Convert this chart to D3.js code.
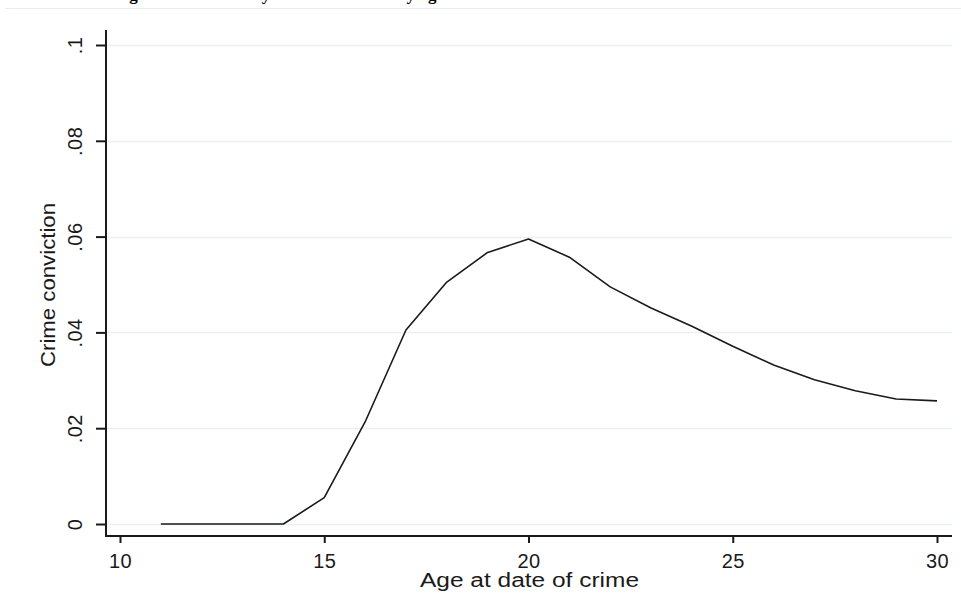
<!DOCTYPE html>
<html>
<head>
<meta charset="utf-8">
<script src="https://cdn.jsdelivr.net/npm/d3@7"></script>
<style>
  html, body { margin: 0; padding: 0; background: #ffffff; }
  svg { display: block; }
</style>
</head>
<body>
<svg id="chart" width="961" height="615"></svg>
<script>
// ---- data ----
const ages = [11, 12, 13, 14, 15, 16, 17, 18, 19, 20, 21, 22, 23, 24, 25, 26, 27, 28, 29, 30];
const conviction = [0, 0, 0, 0, 0.0055, 0.0213, 0.0405, 0.0505, 0.0567, 0.0595, 0.0557, 0.0495,
                    0.0451, 0.0413, 0.0371, 0.0332, 0.0301, 0.0278, 0.0261, 0.0257];
const xTicks = [10, 15, 20, 25, 30];
const yTicks = [0, 0.02, 0.04, 0.06, 0.08, 0.1];
const yTickLabels = ["0", ".02", ".04", ".06", ".08", ".1"];
const titleText = "Figure 1: Criminality and Convictions by age";
const xTitle = "Age at date of crime";
const yTitle = "Crime conviction";

// ---- layout ----
const svg = d3.select("#chart");
const axisLeftX = 106, axisBottomY = 536, plotRight = 952, plotTop = 30;
const x = d3.scaleLinear().domain([10, 30]).range([120, 937]);
const y = d3.scaleLinear().domain([0, 0.1]).range([524, 45]);
const font = "'Liberation Sans', Arial, sans-serif";

// outer region top line
svg.append("line").attr("x1", 5).attr("x2", 961).attr("y1", 8.5).attr("y2", 8.5)
  .attr("stroke", "#e6edf4").attr("stroke-width", 1);

// clipped title (only descenders visible)
svg.append("text").attr("x", 114).attr("y", 0)
  .attr("font-family", "'Liberation Serif', 'Times New Roman', serif")
  .attr("font-weight", "bold").attr("font-size", 17).attr("fill", "#000")
  .attr("textLength", 330).attr("lengthAdjust", "spacing")
  .text(titleText);

// gridlines
svg.append("g").selectAll("line").data(yTicks).join("line")
  .attr("x1", axisLeftX + 1).attr("x2", plotRight)
  .attr("y1", d => Math.round(y(d)) + 0.5).attr("y2", d => Math.round(y(d)) + 0.5)
  .attr("stroke", "#eaf0f6").attr("stroke-width", 1.5);

// y axis
const yAxis = d3.axisLeft(y).tickValues(yTicks).tickSize(10).tickPadding(0)
  .tickFormat((d, i) => yTickLabels[i]);
const gy = svg.append("g").attr("transform", `translate(${axisLeftX},0)`).call(yAxis);
gy.select(".domain").remove();
gy.selectAll(".tick line").attr("stroke", "#1a1a1a").attr("stroke-width", 2);
gy.selectAll(".tick text")
  .attr("font-family", font).attr("font-size", 20).attr("fill", "#1a1a1a")
  .attr("text-anchor", "middle").attr("x", 0).attr("dy", 0)
  .attr("letter-spacing", 0.5)
  .attr("transform", "translate(-24,0) rotate(-90)");
svg.append("line").attr("x1", axisLeftX).attr("x2", axisLeftX)
  .attr("y1", plotTop).attr("y2", axisBottomY + 1)
  .attr("stroke", "#1a1a1a").attr("stroke-width", 2);

// x axis
const xAxis = d3.axisBottom(x).tickValues(xTicks).tickSize(7).tickPadding(11)
  .tickFormat(d3.format("d"));
const gx = svg.append("g").attr("transform", `translate(0,${axisBottomY})`).call(xAxis);
gx.select(".domain").remove();
gx.selectAll(".tick line").attr("stroke", "#1a1a1a").attr("stroke-width", 2);
gx.selectAll(".tick text")
  .attr("font-family", font).attr("font-size", 20).attr("fill", "#1a1a1a")
  .attr("letter-spacing", 0.5);
svg.append("line").attr("x1", axisLeftX - 1).attr("x2", plotRight)
  .attr("y1", axisBottomY).attr("y2", axisBottomY)
  .attr("stroke", "#1a1a1a").attr("stroke-width", 2);

// axis titles
svg.append("text").attr("x", 420).attr("y", 587)
  .attr("text-anchor", "start").attr("font-family", font).attr("font-size", 20)
  .attr("textLength", 219).attr("lengthAdjust", "spacingAndGlyphs")
  .attr("fill", "#1a1a1a").text(xTitle);
svg.append("text").attr("transform", `translate(55,${(plotTop + axisBottomY) / 2 + 2}) rotate(-90)`)
  .attr("text-anchor", "middle").attr("font-family", font).attr("font-size", 20)
  .attr("textLength", 164).attr("lengthAdjust", "spacingAndGlyphs")
  .attr("fill", "#1a1a1a").text(yTitle);

// line
const line = d3.line().x((d, i) => x(ages[i])).y(d => y(d));
svg.append("path").datum(conviction).attr("d", line)
  .attr("fill", "none").attr("stroke", "#1a1a1a").attr("stroke-width", 1.6)
  .attr("stroke-linejoin", "round");
</script>
</body>
</html>
